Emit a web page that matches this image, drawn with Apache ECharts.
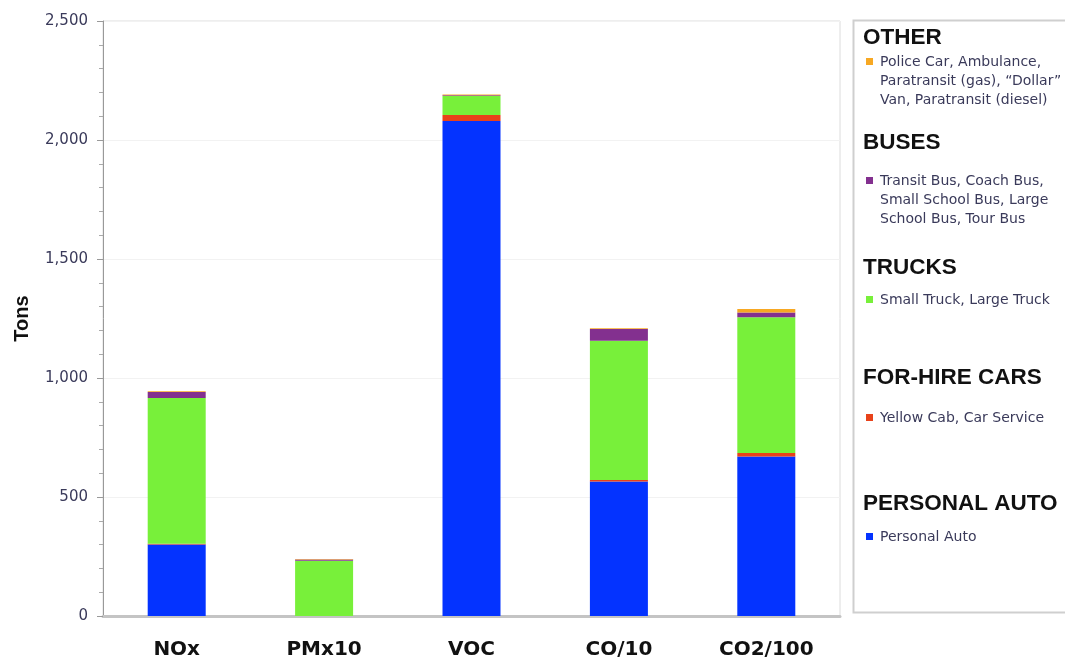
<!DOCTYPE html>
<html>
<head>
<meta charset="utf-8">
<script src="https://cdn.jsdelivr.net/npm/echarts@6/dist/echarts.min.js"></script>
<style>
html,body{margin:0;padding:0;background:#fff;}
#c{width:1065px;height:663px;}
</style>
</head>
<body>
<div id="c"></div>
<script>
const categories = ['NOx', 'PMx10', 'VOC', 'CO/10', 'CO2/100'];
const personalAuto = [300, 0, 2080, 565, 670];
const forHireCars = [4, 0, 25, 6, 15];
const trucks = [612, 232, 80, 585, 570];
const buses = [25, 5, 3, 50, 20];
const other = [3, 3, 3, 3, 15];
const yTicks = [0, 500, 1000, 1500, 2000, 2500];

const seriesNames = ['Personal Auto', 'Yellow Cab, Car Service', 'Small Truck, Large Truck',
  'Transit Bus, Coach Bus, Small School Bus, Large School Bus, Tour Bus',
  'Police Car, Ambulance, Paratransit (gas), \u201cDollar\u201d Van, Paratransit (diesel)'];
const seriesData = [personalAuto, forHireCars, trucks, buses, other];
const colors = ['#0433ff', '#e8421a', '#78f03a', '#83308f', '#f7a823'];

const legendGroups = [
  {title: 'OTHER', ty: 38, lines: ['Police Car, Ambulance,', 'Paratransit (gas), \u201cDollar\u201d', 'Van, Paratransit (diesel)'], ly: 62, color: colors[4]},
  {title: 'BUSES', ty: 143, lines: ['Transit Bus, Coach Bus,', 'Small School Bus, Large', 'School Bus, Tour Bus'], ly: 181, color: colors[3]},
  {title: 'TRUCKS', ty: 268, lines: ['Small Truck, Large Truck'], ly: 300, color: colors[2]},
  {title: 'FOR-HIRE CARS', ty: 378, lines: ['Yellow Cab, Car Service'], ly: 418, color: colors[1]},
  {title: 'PERSONAL AUTO', ty: 504, lines: ['Personal Auto'], ly: 537, color: colors[0]}
];

const chart = echarts.init(document.getElementById('c'));
const graphics = [
  {type: 'rect', shape: {x: 853.5, y: 20.5, width: 220, height: 592}, style: {fill: '#fff', stroke: '#cfcfcf', lineWidth: 2}, z: 1}
];
legendGroups.forEach(g => {
  graphics.push({type: 'text', x: 863, y: g.ty, style: {text: g.title, font: 'bold 22.5px "Liberation Sans", Arial, sans-serif', fill: '#111', verticalAlign: 'middle'}, z: 2});
  graphics.push({type: 'rect', shape: {x: 866, y: g.ly - 4, width: 7, height: 7}, style: {fill: g.color}, z: 2});
  g.lines.forEach((t, i) => {
    graphics.push({type: 'text', x: 880, y: g.ly + i * 19, style: {text: t, font: '14px "DejaVu Sans", Verdana, sans-serif', fill: '#3a3a5a', verticalAlign: 'middle'}, z: 2});
  });
});

chart.setOption({
  animation: false,
  backgroundColor: '#fff',
  grid: {left: 103, right: 225, top: 21, bottom: 47, show: true, borderColor: '#dcdcdc', borderWidth: 1, outerBoundsMode: 'none', containLabel: false},
  xAxis: {
    type: 'category', data: categories,
    axisLine: {lineStyle: {color: '#c4c4c4', width: 3}},
    axisTick: {show: false},
    axisLabel: {color: '#111', fontSize: 20, fontWeight: 'bold', fontFamily: '"DejaVu Sans", Verdana, sans-serif', margin: 24}
  },
  yAxis: {
    type: 'value', min: 0, max: 2500, interval: 500,
    name: 'Tons', nameLocation: 'middle', nameGap: 71,
    nameTextStyle: {color: '#111', fontSize: 20, fontWeight: 'bold', fontFamily: '"Liberation Sans", Arial, sans-serif'},
    axisLine: {show: true, lineStyle: {color: '#999', width: 1}},
    axisTick: {show: true, length: 6, lineStyle: {color: '#999'}},
    minorTick: {show: true, splitNumber: 5, length: 4, lineStyle: {color: '#aaa'}},
    splitLine: {show: true, lineStyle: {color: '#f2f2f2'}},
    axisLabel: {color: '#3a3a5a', fontSize: 15, fontFamily: '"DejaVu Sans", Verdana, sans-serif', margin: 15,
      formatter: v => yTicks.includes(v) ? v.toLocaleString('en-US') : ''}
  },
  series: seriesData.map((d, i) => ({
    name: seriesNames[i], type: 'bar', stack: 'total', data: d, barWidth: 58,
    itemStyle: {color: colors[i]}
  })),
  graphic: graphics
});
</script>
</body>
</html>
